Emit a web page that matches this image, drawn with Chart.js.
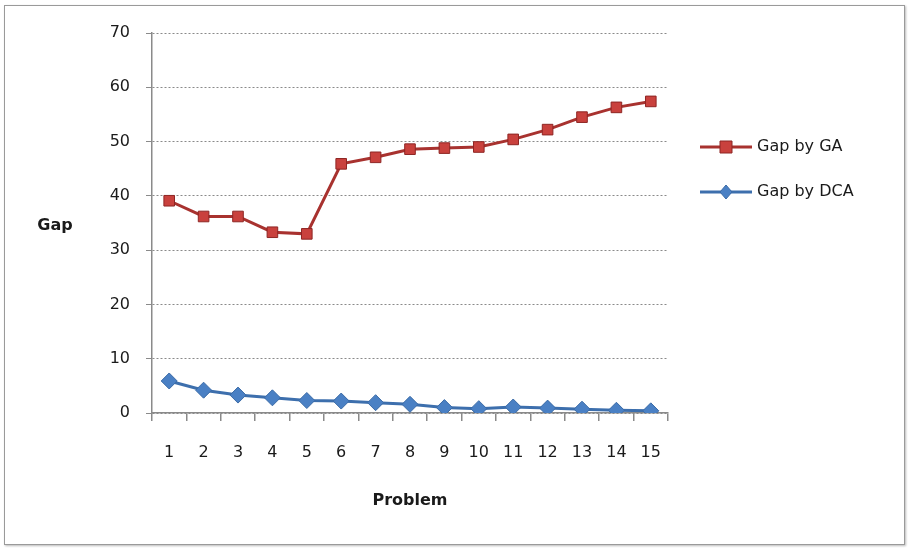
<!DOCTYPE html>
<html>
<head>
<meta charset="utf-8">
<script src="https://cdn.jsdelivr.net/npm/chart.js@4.4.0/dist/chart.umd.min.js"></script>
<style>
  body { margin: 0; background: #fff; }
  #frame { position: absolute; left: 4px; top: 5px; width: 899px; height: 538px; border: 1px solid #9a9a9a; box-shadow: 1px 1px 2px #bbb; }
  #wrap { position: absolute; left: 0; top: 0; width: 909px; height: 548px; }
</style>
</head>
<body>
<div id="frame"></div>
<div id="wrap"><canvas id="gapChart" width="909" height="548"></canvas></div>
<script>
// chart data
const problems = ["1","2","3","4","5","6","7","8","9","10","11","12","13","14","15"];
const gapGA  = [39.1, 36.2, 36.2, 33.3, 33.0, 45.9, 47.1, 48.6, 48.8, 49.0, 50.4, 52.2, 54.5, 56.3, 57.4];
const gapDCA = [5.9, 4.2, 3.3, 2.8, 2.3, 2.2, 1.9, 1.6, 1.0, 0.8, 1.1, 0.9, 0.7, 0.5, 0.4];
const yTicks = [0, 10, 20, 30, 40, 50, 60, 70];

const font = "DejaVu Sans";

// draws axis titles and the legend on the right
const extras = {
  id: "extras",
  afterDraw(chart) {
    const ctx = chart.ctx;
    ctx.save();
    ctx.fillStyle = "#1a1a1a";
    ctx.textBaseline = "middle";
    ctx.textAlign = "center";
    ctx.font = "bold 16px '" + font + "'";
    ctx.fillText("Gap", 55, 226);
    ctx.fillText("Problem", 410, 501);

    const rows = [147, 192];
    chart.data.datasets.forEach((ds, i) => {
      const y = rows[i];
      ctx.strokeStyle = ds.borderColor;
      ctx.lineWidth = 3;
      ctx.beginPath();
      ctx.moveTo(700, y);
      ctx.lineTo(752, y);
      ctx.stroke();
      ctx.fillStyle = ds.pointBackgroundColor;
      ctx.strokeStyle = ds.pointBorderColor;
      ctx.lineWidth = 1;
      ctx.beginPath();
      if (ds.pointStyle === "rect") {
        ctx.rect(720, y - 6, 12, 12);
      } else {
        ctx.moveTo(726, y - 7);
        ctx.lineTo(732, y);
        ctx.lineTo(726, y + 7);
        ctx.lineTo(720, y);
        ctx.closePath();
      }
      ctx.fill();
      ctx.stroke();
      ctx.fillStyle = "#1a1a1a";
      ctx.textAlign = "left";
      ctx.font = "16px '" + font + "'";
      ctx.fillText(ds.label, 757, y);
    });
    ctx.restore();
  }
};

const ctx = document.getElementById("gapChart").getContext("2d");
const gapChart = new Chart(ctx, {
  type: "line",
  data: {
    labels: problems,
    datasets: [
      {
        label: "Gap by GA",
        data: gapGA,
        borderColor: "#a8322f",
        borderWidth: 3,
        pointStyle: "rect",
        pointRadius: 7.5,
        pointBackgroundColor: "#c9413d",
        pointBorderColor: "#8e2624",
        pointBorderWidth: 1,
        tension: 0
      },
      {
        label: "Gap by DCA",
        data: gapDCA,
        borderColor: "#3d6fad",
        borderWidth: 3,
        pointStyle: "rectRot",
        pointRadius: 8,
        pointBackgroundColor: "#4a80c4",
        pointBorderColor: "#3a6aa6",
        pointBorderWidth: 1,
        tension: 0
      }
    ]
  },
  options: {
    responsive: false,
    animation: false,
    layout: { padding: { left: 0, right: 241, top: 33, bottom: 0 } },
    plugins: { legend: { display: false }, tooltip: { enabled: false } },
    scales: {
      x: {
        offset: true,
        afterFit(scale) { scale.height = 135; },
        border: { color: "#8a8a8a", width: 1.5 },
        grid: { offset: true, drawOnChartArea: false, tickLength: 8, color: "#8a8a8a", lineWidth: 1.5 },
        ticks: { color: "#1a1a1a", font: { family: font, size: 16 }, padding: 22, autoSkip: false, maxRotation: 0 }
      },
      y: {
        min: 0,
        max: 70,
        afterFit(scale) { scale.width = 152; },
        afterBuildTicks(scale) { scale.ticks = yTicks.map(v => ({ value: v })); },
        border: { color: "#8a8a8a", width: 1.5, dash: [2, 2] },
        grid: {
          color: "#8a8a8a",
          lineWidth: 1,
          tickLength: 6,
          tickColor: "#8a8a8a",
          tickBorderDash: [1, 0]
        },
        ticks: { color: "#1a1a1a", font: { family: font, size: 16 }, padding: 16 }
      }
    }
  },
  plugins: [extras]
});
</script>
</body>
</html>
